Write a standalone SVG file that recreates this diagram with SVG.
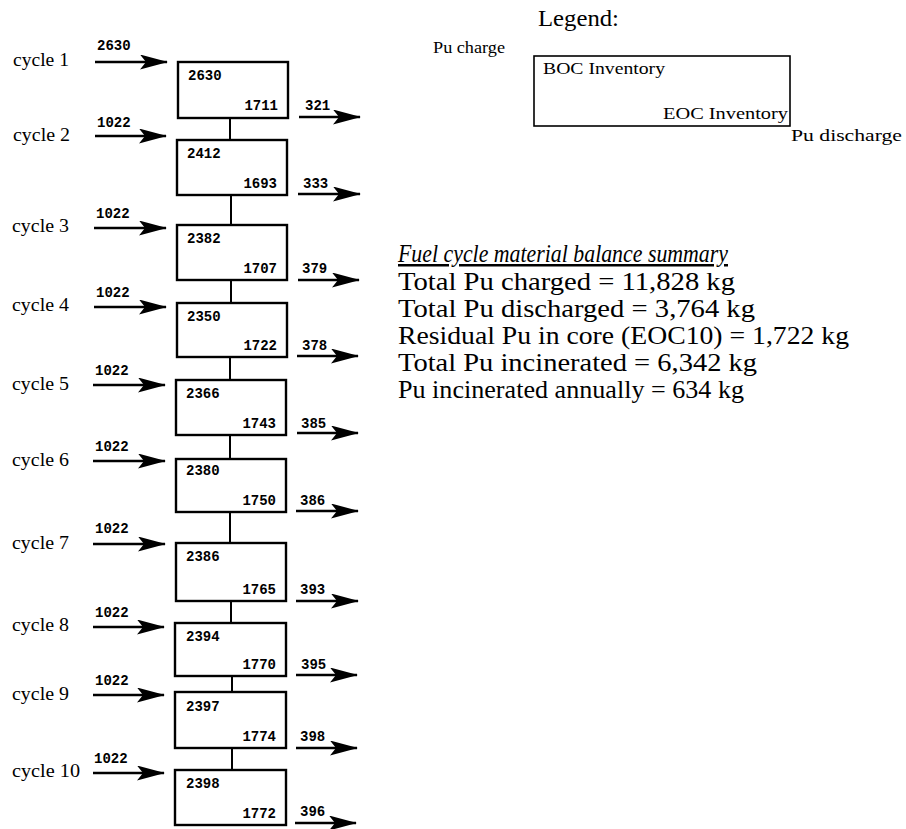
<svg xmlns="http://www.w3.org/2000/svg" width="906" height="829" viewBox="0 0 906 829">
<defs>
<style>
.bg{fill:#fff}
.box{fill:#fff;stroke:#000;stroke-width:2.4}
.lbox{fill:#fff;stroke:#000;stroke-width:1.6}
.num{font-family:"Liberation Mono","DejaVu Sans Mono",monospace;font-size:14px;font-weight:bold;fill:#000}
.cyc{font-family:"Liberation Serif","Times New Roman",serif;font-size:19px;fill:#000}
.ser{font-family:"Liberation Serif","Times New Roman",serif;fill:#000}
.arr{stroke:#000;stroke-width:2.5;fill:none}
.link{stroke:#000;stroke-width:2;fill:none}
</style>
<marker id="ah" viewBox="0 0 28 15" refX="27" refY="7.5" markerWidth="28" markerHeight="15" markerUnits="userSpaceOnUse" orient="auto">
<path d="M0,0 L28,7.5 L0,15 L6,7.5 z" fill="#000"/>
</marker>
</defs>
<rect class="bg" x="0" y="0" width="906" height="829"/>

<g id="connectors">
<line class="arr" x1="95" y1="62" x2="167" y2="62" marker-end="url(#ah)"/>
<line class="arr" x1="95" y1="136" x2="166" y2="136" marker-end="url(#ah)"/>
<line class="arr" x1="94" y1="228" x2="166" y2="228" marker-end="url(#ah)"/>
<line class="arr" x1="94" y1="307" x2="166" y2="307" marker-end="url(#ah)"/>
<line class="arr" x1="93" y1="385" x2="165" y2="385" marker-end="url(#ah)"/>
<line class="arr" x1="93" y1="461" x2="165" y2="461" marker-end="url(#ah)"/>
<line class="arr" x1="93" y1="544" x2="165" y2="544" marker-end="url(#ah)"/>
<line class="arr" x1="93" y1="627" x2="164" y2="627" marker-end="url(#ah)"/>
<line class="arr" x1="93" y1="695" x2="164" y2="695" marker-end="url(#ah)"/>
<line class="arr" x1="93" y1="773" x2="164" y2="773" marker-end="url(#ah)"/>

<line class="arr" x1="299" y1="117" x2="360" y2="117" marker-end="url(#ah)"/>
<line class="arr" x1="298" y1="194" x2="360" y2="194" marker-end="url(#ah)"/>
<line class="arr" x1="298" y1="280" x2="359" y2="280" marker-end="url(#ah)"/>
<line class="arr" x1="297" y1="356" x2="358" y2="356" marker-end="url(#ah)"/>
<line class="arr" x1="297" y1="433" x2="358" y2="433" marker-end="url(#ah)"/>
<line class="arr" x1="296" y1="511" x2="358" y2="511" marker-end="url(#ah)"/>
<line class="arr" x1="296" y1="601" x2="358" y2="601" marker-end="url(#ah)"/>
<line class="arr" x1="296" y1="675" x2="357" y2="675" marker-end="url(#ah)"/>
<line class="arr" x1="296" y1="748" x2="357" y2="748" marker-end="url(#ah)"/>
<line class="arr" x1="295" y1="823" x2="356" y2="823" marker-end="url(#ah)"/>

<line class="link" x1="230" y1="118" x2="230" y2="140"/>
<line class="link" x1="231" y1="195" x2="231" y2="225"/>
<line class="link" x1="231" y1="280" x2="231" y2="303"/>
<line class="link" x1="230" y1="357" x2="230" y2="380"/>
<line class="link" x1="230" y1="435" x2="230" y2="459"/>
<line class="link" x1="230" y1="512" x2="230" y2="543"/>
<line class="link" x1="231" y1="601" x2="231" y2="623"/>
<line class="link" x1="232" y1="676" x2="232" y2="692"/>
<line class="link" x1="232" y1="748" x2="232" y2="770"/>
</g>

<g id="cycle1"><text class="cyc" x="13" y="66" textLength="56" lengthAdjust="spacingAndGlyphs">cycle 1</text><text class="num" x="97" y="50">2630</text>
<rect class="box" x="178" y="62" width="110" height="56"/><text class="num" x="188" y="80">2630</text><text class="num" x="278" y="110" text-anchor="end">1711</text><text class="num" x="305" y="110">321</text></g>
<g id="cycle2"><text class="cyc" x="13" y="141" textLength="57" lengthAdjust="spacingAndGlyphs">cycle 2</text><text class="num" x="97" y="127">1022</text>
<rect class="box" x="177" y="140" width="110" height="55"/><text class="num" x="187" y="158">2412</text><text class="num" x="277" y="188" text-anchor="end">1693</text><text class="num" x="303" y="188">333</text></g>
<g id="cycle3"><text class="cyc" x="12" y="232" textLength="57" lengthAdjust="spacingAndGlyphs">cycle 3</text><text class="num" x="96" y="218">1022</text>
<rect class="box" x="177" y="225" width="110" height="55"/><text class="num" x="187" y="243">2382</text><text class="num" x="277" y="273" text-anchor="end">1707</text><text class="num" x="302" y="273">379</text></g>
<g id="cycle4"><text class="cyc" x="12" y="311" textLength="57" lengthAdjust="spacingAndGlyphs">cycle 4</text><text class="num" x="96" y="297">1022</text>
<rect class="box" x="177" y="303" width="110" height="54"/><text class="num" x="187" y="321">2350</text><text class="num" x="277" y="350" text-anchor="end">1722</text><text class="num" x="302" y="350">378</text></g>
<g id="cycle5"><text class="cyc" x="12" y="390" textLength="57" lengthAdjust="spacingAndGlyphs">cycle 5</text><text class="num" x="95" y="375">1022</text>
<rect class="box" x="176" y="380" width="110" height="55"/><text class="num" x="186" y="398">2366</text><text class="num" x="276" y="428" text-anchor="end">1743</text><text class="num" x="301" y="428">385</text></g>
<g id="cycle6"><text class="cyc" x="12" y="466" textLength="57" lengthAdjust="spacingAndGlyphs">cycle 6</text><text class="num" x="95" y="451">1022</text>
<rect class="box" x="176" y="459" width="110" height="53"/><text class="num" x="186" y="475">2380</text><text class="num" x="276" y="505" text-anchor="end">1750</text><text class="num" x="300" y="505">386</text></g>
<g id="cycle7"><text class="cyc" x="12" y="549" textLength="57" lengthAdjust="spacingAndGlyphs">cycle 7</text><text class="num" x="95" y="533">1022</text>
<rect class="box" x="176" y="543" width="110" height="58"/><text class="num" x="186" y="561">2386</text><text class="num" x="276" y="594" text-anchor="end">1765</text><text class="num" x="300" y="594">393</text></g>
<g id="cycle8"><text class="cyc" x="12" y="631" textLength="57" lengthAdjust="spacingAndGlyphs">cycle 8</text><text class="num" x="95" y="617">1022</text>
<rect class="box" x="175" y="623" width="111" height="53"/><text class="num" x="186" y="641">2394</text><text class="num" x="276" y="669" text-anchor="end">1770</text><text class="num" x="301" y="669">395</text></g>
<g id="cycle9"><text class="cyc" x="12" y="700" textLength="57" lengthAdjust="spacingAndGlyphs">cycle 9</text><text class="num" x="95" y="685">1022</text>
<rect class="box" x="175" y="692" width="111" height="56"/><text class="num" x="186" y="711">2397</text><text class="num" x="276" y="741" text-anchor="end">1774</text><text class="num" x="300" y="741">398</text></g>
<g id="cycle10"><text class="cyc" x="12" y="777" textLength="68" lengthAdjust="spacingAndGlyphs">cycle 10</text><text class="num" x="94" y="763">1022</text>
<rect class="box" x="175" y="770" width="111" height="55"/><text class="num" x="186" y="788">2398</text><text class="num" x="276" y="818" text-anchor="end">1772</text><text class="num" x="300" y="816">396</text></g>

<g id="legend">
<text class="ser" x="538" y="26" font-size="24" textLength="81" lengthAdjust="spacingAndGlyphs">Legend:</text>
<text class="ser" x="433" y="53" font-size="16" textLength="72" lengthAdjust="spacingAndGlyphs">Pu charge</text>
<rect class="lbox" x="534" y="56" width="256" height="70"/>
<text class="ser" x="543" y="74" font-size="17" textLength="122" lengthAdjust="spacingAndGlyphs">BOC Inventory</text>
<text class="ser" x="663" y="119" font-size="17" textLength="125" lengthAdjust="spacingAndGlyphs">EOC Inventory</text>
<text class="ser" x="791" y="141" font-size="16" textLength="111" lengthAdjust="spacingAndGlyphs">Pu discharge</text>
</g>

<g id="summary">
<text class="ser" x="398" y="262" font-size="25" font-style="italic" text-decoration="underline" textLength="330" lengthAdjust="spacingAndGlyphs">Fuel cycle material balance summary</text>
<text class="ser" x="398" y="290" font-size="25" textLength="337" lengthAdjust="spacingAndGlyphs">Total Pu charged = 11,828 kg</text>
<text class="ser" x="398" y="317" font-size="25" textLength="357" lengthAdjust="spacingAndGlyphs">Total Pu discharged = 3,764 kg</text>
<text class="ser" x="398" y="344" font-size="25" textLength="451" lengthAdjust="spacingAndGlyphs">Residual Pu in core (EOC10) = 1,722 kg</text>
<text class="ser" x="398" y="371" font-size="25" textLength="359" lengthAdjust="spacingAndGlyphs">Total Pu incinerated = 6,342 kg</text>
<text class="ser" x="398" y="398" font-size="25" textLength="346" lengthAdjust="spacingAndGlyphs">Pu incinerated annually = 634 kg</text>
</g>
</svg>
